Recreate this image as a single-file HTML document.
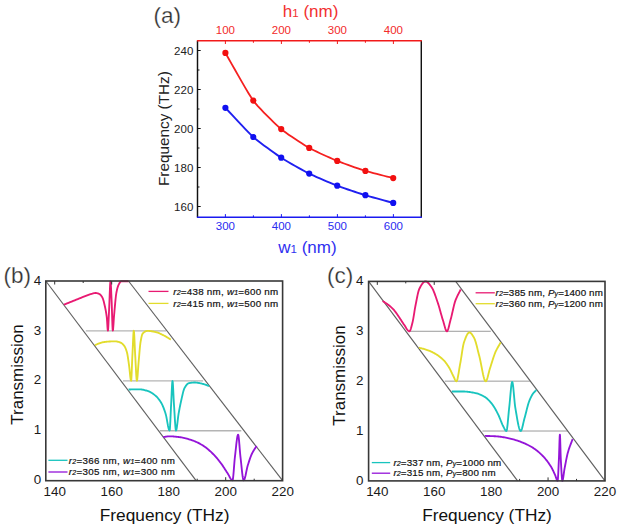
<!DOCTYPE html>
<html><head><meta charset="utf-8"><style>
html,body{margin:0;padding:0;background:#fff;}
svg{display:block;}
</style></head><body>
<svg width="621" height="528" viewBox="0 0 621 528">
<rect width="621" height="528" fill="#fff"/>
<g fill="none" stroke-width="1.45"><line x1="197.5" y1="40.8" x2="197.5" y2="217.3" stroke="#111"/><line x1="421.3" y1="40.8" x2="421.3" y2="217.3" stroke="#111"/><line x1="196.9" y1="40.8" x2="421.90000000000003" y2="40.8" stroke="#f21a1a"/><line x1="196.9" y1="217.3" x2="421.90000000000003" y2="217.3" stroke="#1a1af0"/></g><line x1="197.5" y1="206.50" x2="200.7" y2="206.50" stroke="#111" stroke-width="1"/><line x1="197.5" y1="187.00" x2="199.5" y2="187.00" stroke="#111" stroke-width="1"/><line x1="197.5" y1="167.50" x2="200.7" y2="167.50" stroke="#111" stroke-width="1"/><line x1="197.5" y1="148.00" x2="199.5" y2="148.00" stroke="#111" stroke-width="1"/><line x1="197.5" y1="128.50" x2="200.7" y2="128.50" stroke="#111" stroke-width="1"/><line x1="197.5" y1="109.00" x2="199.5" y2="109.00" stroke="#111" stroke-width="1"/><line x1="197.5" y1="89.50" x2="200.7" y2="89.50" stroke="#111" stroke-width="1"/><line x1="197.5" y1="70.00" x2="199.5" y2="70.00" stroke="#111" stroke-width="1"/><line x1="197.5" y1="50.50" x2="200.7" y2="50.50" stroke="#111" stroke-width="1"/><line x1="225.40" y1="217.3" x2="225.40" y2="214.10000000000002" stroke="#1a1af0" stroke-width="1"/><line x1="225.40" y1="40.8" x2="225.40" y2="44.0" stroke="#f21a1a" stroke-width="1"/><line x1="253.40" y1="217.3" x2="253.40" y2="215.3" stroke="#1a1af0" stroke-width="1"/><line x1="253.40" y1="40.8" x2="253.40" y2="42.8" stroke="#f21a1a" stroke-width="1"/><line x1="281.40" y1="217.3" x2="281.40" y2="214.10000000000002" stroke="#1a1af0" stroke-width="1"/><line x1="281.40" y1="40.8" x2="281.40" y2="44.0" stroke="#f21a1a" stroke-width="1"/><line x1="309.40" y1="217.3" x2="309.40" y2="215.3" stroke="#1a1af0" stroke-width="1"/><line x1="309.40" y1="40.8" x2="309.40" y2="42.8" stroke="#f21a1a" stroke-width="1"/><line x1="337.40" y1="217.3" x2="337.40" y2="214.10000000000002" stroke="#1a1af0" stroke-width="1"/><line x1="337.40" y1="40.8" x2="337.40" y2="44.0" stroke="#f21a1a" stroke-width="1"/><line x1="365.40" y1="217.3" x2="365.40" y2="215.3" stroke="#1a1af0" stroke-width="1"/><line x1="365.40" y1="40.8" x2="365.40" y2="42.8" stroke="#f21a1a" stroke-width="1"/><line x1="393.40" y1="217.3" x2="393.40" y2="214.10000000000002" stroke="#1a1af0" stroke-width="1"/><line x1="393.40" y1="40.8" x2="393.40" y2="44.0" stroke="#f21a1a" stroke-width="1"/><path d="M225.40,52.90 L226.71,55.19 L228.84,58.96 L231.60,63.87 L234.82,69.56 L238.30,75.68 L241.87,81.89 L245.34,87.84 L248.52,93.17 L251.24,97.54 L253.30,100.60 L255.29,103.12 L257.81,106.04 L260.73,109.22 L263.92,112.56 L267.25,115.93 L270.57,119.22 L273.76,122.30 L276.69,125.05 L279.21,127.36 L281.20,129.10 L283.19,130.69 L285.72,132.57 L288.65,134.65 L291.86,136.85 L295.20,139.08 L298.53,141.27 L301.74,143.33 L304.67,145.18 L307.21,146.73 L309.20,147.90 L311.19,148.97 L313.72,150.25 L316.66,151.68 L319.86,153.19 L323.19,154.73 L326.53,156.25 L329.73,157.68 L332.67,158.97 L335.20,160.06 L337.20,160.90 L339.20,161.69 L341.75,162.66 L344.71,163.75 L347.94,164.92 L351.31,166.12 L354.67,167.30 L357.90,168.42 L360.86,169.42 L363.40,170.26 L365.40,170.90 L367.46,171.50 L370.17,172.24 L373.35,173.08 L376.80,173.97 L380.36,174.87 L383.83,175.75 L387.03,176.55 L389.78,177.24 L391.90,177.77 L393.20,178.10" fill="none" stroke="#f52020" stroke-width="1.8"/><path d="M225.40,107.80 L226.71,109.19 L228.84,111.48 L231.60,114.45 L234.82,117.90 L238.30,121.62 L241.87,125.41 L245.34,129.04 L248.52,132.33 L251.24,135.05 L253.30,137.00 L255.29,138.69 L257.81,140.72 L260.73,142.98 L263.92,145.39 L267.25,147.85 L270.57,150.27 L273.76,152.56 L276.69,154.62 L279.21,156.37 L281.20,157.70 L283.19,158.96 L285.72,160.49 L288.65,162.22 L291.86,164.07 L295.20,165.97 L298.53,167.85 L301.74,169.62 L304.67,171.22 L307.21,172.57 L309.20,173.60 L311.19,174.56 L313.72,175.73 L316.66,177.04 L319.86,178.45 L323.19,179.89 L326.53,181.31 L329.73,182.66 L332.67,183.88 L335.20,184.91 L337.20,185.70 L339.20,186.44 L341.75,187.35 L344.71,188.38 L347.94,189.48 L351.31,190.61 L354.67,191.74 L357.90,192.80 L360.86,193.76 L363.40,194.57 L365.40,195.20 L367.46,195.81 L370.17,196.59 L373.35,197.48 L376.80,198.43 L380.36,199.41 L383.83,200.35 L387.03,201.22 L389.78,201.97 L391.90,202.54 L393.20,202.90" fill="none" stroke="#2020f0" stroke-width="1.9"/><circle cx="225.4" cy="52.9" r="3.1" fill="#f21010"/><circle cx="253.3" cy="100.6" r="3.1" fill="#f21010"/><circle cx="281.2" cy="129.1" r="3.1" fill="#f21010"/><circle cx="309.2" cy="147.9" r="3.1" fill="#f21010"/><circle cx="337.2" cy="160.9" r="3.1" fill="#f21010"/><circle cx="365.4" cy="170.9" r="3.1" fill="#f21010"/><circle cx="393.2" cy="178.1" r="3.1" fill="#f21010"/><circle cx="225.4" cy="107.8" r="3.1" fill="#1010f0"/><circle cx="253.3" cy="137.0" r="3.1" fill="#1010f0"/><circle cx="281.2" cy="157.7" r="3.1" fill="#1010f0"/><circle cx="309.2" cy="173.6" r="3.1" fill="#1010f0"/><circle cx="337.2" cy="185.7" r="3.1" fill="#1010f0"/><circle cx="365.4" cy="195.2" r="3.1" fill="#1010f0"/><circle cx="393.2" cy="202.9" r="3.1" fill="#1010f0"/><g font-family='"Liberation Sans", sans-serif' font-size="11.5" text-anchor="middle"><text x="193.3" y="210.60" text-anchor="end" fill="#222">160</text><text x="193.3" y="171.60" text-anchor="end" fill="#222">180</text><text x="193.3" y="132.60" text-anchor="end" fill="#222">200</text><text x="193.3" y="93.60" text-anchor="end" fill="#222">220</text><text x="193.3" y="54.60" text-anchor="end" fill="#222">240</text><text x="225.40" y="230.3" fill="#2a2af0">300</text><text x="281.40" y="230.3" fill="#2a2af0">400</text><text x="337.40" y="230.3" fill="#2a2af0">500</text><text x="393.40" y="230.3" fill="#2a2af0">600</text><text x="225.40" y="34.2" fill="#f22a2a">100</text><text x="281.40" y="34.2" fill="#f22a2a">200</text><text x="337.40" y="34.2" fill="#f22a2a">300</text><text x="393.40" y="34.2" fill="#f22a2a">400</text></g><text x="163.6" y="128.6" transform="rotate(-90 163.6 128.6)" dy="5.3" font-family='"Liberation Sans", sans-serif' font-size="15.3" text-anchor="middle" fill="#222">Frequency (THz)</text><text x="310.6" y="17" font-family='"Liberation Sans", sans-serif' font-size="17" text-anchor="middle" fill="#f23030">h<tspan font-size="11.5">1</tspan> (nm)</text><text x="307.4" y="252.8" font-family='"Liberation Sans", sans-serif' font-size="17" text-anchor="middle" fill="#3030f0">w<tspan font-size="11.5">1</tspan> (nm)</text><text x="153.5" y="22.8" font-family='"Liberation Sans", sans-serif' font-size="22.5" fill="#303030" stroke="#fff" stroke-width="0.25">(a)</text><line x1="159.8" y1="430.77" x2="241.3" y2="430.77" stroke="#b4b4b4" stroke-width="1.3"/><line x1="123.0" y1="380.85" x2="203.1" y2="380.85" stroke="#b4b4b4" stroke-width="1.3"/><line x1="85.8" y1="330.93" x2="166.0" y2="330.93" stroke="#b4b4b4" stroke-width="1.3"/><line x1="45.8" y1="281.0" x2="196.1" y2="480.7" stroke="#606060" stroke-width="1.15"/><line x1="128.5" y1="281.0" x2="282.6" y2="480.7" stroke="#606060" stroke-width="1.15"/><path d="M63.90,304.70 L65.45,304.07 L67.00,303.44 L68.55,302.81 L70.10,302.18 L71.65,301.54 L73.20,300.91 L74.75,300.28 L76.30,299.65 L77.85,299.03 L79.40,298.41 L80.95,297.80 L82.50,297.20 L83.17,296.94 L83.83,296.67 L84.50,296.40 L85.17,296.13 L85.83,295.87 L86.50,295.60 L87.17,295.34 L87.83,295.09 L88.50,294.85 L89.17,294.62 L89.83,294.40 L90.50,294.20 L90.92,294.08 L91.33,293.94 L91.75,293.81 L92.17,293.68 L92.58,293.54 L93.00,293.42 L93.42,293.31 L93.83,293.20 L94.25,293.12 L94.67,293.06 L95.08,293.01 L95.50,293.00 L95.82,293.01 L96.13,293.04 L96.45,293.08 L96.77,293.14 L97.08,293.21 L97.40,293.29 L97.72,293.39 L98.03,293.49 L98.35,293.61 L98.67,293.73 L98.98,293.86 L99.30,294.00 L99.55,294.13 L99.80,294.28 L100.05,294.47 L100.30,294.69 L100.55,294.94 L100.80,295.22 L101.05,295.52 L101.30,295.85 L101.55,296.20 L101.80,296.58 L102.05,296.98 L102.30,297.40 L102.53,297.85 L102.77,298.40 L103.00,299.03 L103.23,299.74 L103.47,300.52 L103.70,301.36 L103.93,302.26 L104.17,303.21 L104.40,304.19 L104.63,305.21 L104.87,306.24 L105.10,307.30 L105.24,307.95 L105.38,308.63 L105.52,309.33 L105.67,310.06 L105.81,310.83 L105.95,311.63 L106.09,312.48 L106.23,313.37 L106.38,314.31 L106.52,315.32 L106.66,316.38 L106.80,317.50 L106.89,318.39 L106.98,319.51 L107.08,320.81 L107.17,322.23 L107.26,323.70 L107.35,325.17 L107.44,326.58 L107.53,327.87 L107.62,328.97 L107.72,329.84 L107.81,330.40 L107.90,330.60 L107.99,330.36 L108.08,329.68 L108.18,328.61 L108.27,327.23 L108.36,325.59 L108.45,323.74 L108.54,321.75 L108.63,319.68 L108.72,317.59 L108.82,315.54 L108.91,313.59 L109.00,311.80 L109.12,309.26 L109.25,306.34 L109.38,303.16 L109.50,299.82 L109.62,296.44 L109.75,293.14 L109.88,290.03 L110.00,287.23 L110.12,284.85 L110.25,283.01 L110.38,281.82 L110.50,281.40 L110.59,281.63 L110.68,282.29 L110.78,283.33 L110.87,284.68 L110.96,286.30 L111.05,288.14 L111.14,290.12 L111.23,292.21 L111.32,294.35 L111.42,296.48 L111.51,298.55 L111.60,300.50 L111.70,302.81 L111.80,305.57 L111.90,308.66 L112.00,311.94 L112.10,315.30 L112.20,318.62 L112.30,321.77 L112.40,324.62 L112.50,327.05 L112.60,328.94 L112.70,330.16 L112.80,330.60 L112.91,330.39 L113.02,329.78 L113.12,328.85 L113.23,327.65 L113.34,326.23 L113.45,324.66 L113.56,322.99 L113.67,321.27 L113.77,319.58 L113.88,317.97 L113.99,316.49 L114.10,315.20 L114.29,313.09 L114.48,310.93 L114.67,308.75 L114.87,306.57 L115.06,304.43 L115.25,302.35 L115.44,300.35 L115.63,298.48 L115.83,296.74 L116.02,295.18 L116.21,293.83 L116.40,292.70 L116.58,291.77 L116.77,290.88 L116.95,290.04 L117.13,289.26 L117.32,288.53 L117.50,287.84 L117.68,287.21 L117.87,286.62 L118.05,286.09 L118.23,285.61 L118.42,285.18 L118.60,284.80 L118.83,284.35 L119.07,283.91 L119.30,283.48 L119.53,283.07 L119.77,282.68 L120.00,282.32 L120.23,282.01 L120.47,281.73 L120.70,281.51 L120.93,281.34 L121.17,281.24 L121.40,281.20 L121.99,281.20 L122.58,281.20 L123.18,281.20 L123.77,281.20 L124.36,281.20 L124.95,281.20 L125.54,281.20 L126.13,281.20 L126.72,281.20 L127.32,281.20 L127.91,281.20 L128.50,281.20" fill="none" stroke="#e81a72" stroke-width="1.85" stroke-linejoin="round"/><path d="M94.80,345.10 L95.54,344.84 L96.28,344.56 L97.03,344.26 L97.77,343.96 L98.51,343.66 L99.25,343.36 L99.99,343.08 L100.73,342.82 L101.47,342.58 L102.22,342.38 L102.96,342.22 L103.70,342.10 L104.61,341.99 L105.52,341.89 L106.42,341.79 L107.33,341.69 L108.24,341.61 L109.15,341.53 L110.06,341.46 L110.97,341.41 L111.88,341.36 L112.78,341.33 L113.69,341.31 L114.60,341.30 L115.06,341.31 L115.52,341.34 L115.97,341.39 L116.43,341.45 L116.89,341.53 L117.35,341.62 L117.81,341.73 L118.27,341.84 L118.72,341.97 L119.18,342.11 L119.64,342.25 L120.10,342.40 L120.44,342.53 L120.78,342.69 L121.12,342.88 L121.47,343.10 L121.81,343.34 L122.15,343.62 L122.49,343.92 L122.83,344.24 L123.17,344.60 L123.52,344.97 L123.86,345.38 L124.20,345.80 L124.43,346.12 L124.67,346.49 L124.90,346.90 L125.13,347.35 L125.37,347.85 L125.60,348.39 L125.83,348.98 L126.07,349.62 L126.30,350.30 L126.53,351.02 L126.77,351.79 L127.00,352.60 L127.17,353.26 L127.33,354.03 L127.50,354.91 L127.67,355.87 L127.83,356.91 L128.00,358.00 L128.17,359.14 L128.33,360.31 L128.50,361.49 L128.67,362.68 L128.83,363.85 L129.00,365.00 L129.18,366.30 L129.35,367.81 L129.53,369.45 L129.70,371.18 L129.88,372.92 L130.05,374.63 L130.22,376.23 L130.40,377.68 L130.57,378.91 L130.75,379.87 L130.92,380.48 L131.10,380.70 L131.21,380.36 L131.32,379.38 L131.43,377.87 L131.53,375.92 L131.64,373.62 L131.75,371.05 L131.86,368.32 L131.97,365.52 L132.07,362.73 L132.18,360.05 L132.29,357.58 L132.40,355.40 L132.52,353.10 L132.63,350.58 L132.75,347.92 L132.87,345.19 L132.98,342.48 L133.10,339.87 L133.22,337.43 L133.33,335.26 L133.45,333.43 L133.57,332.02 L133.68,331.12 L133.80,330.80 L133.92,331.14 L134.03,332.10 L134.15,333.58 L134.27,335.50 L134.38,337.76 L134.50,340.27 L134.62,342.94 L134.73,345.67 L134.85,348.38 L134.97,350.96 L135.08,353.33 L135.20,355.40 L135.34,357.82 L135.48,360.45 L135.62,363.22 L135.77,366.03 L135.91,368.81 L136.05,371.48 L136.19,373.97 L136.33,376.18 L136.47,378.03 L136.62,379.46 L136.76,380.38 L136.90,380.70 L137.04,380.45 L137.18,379.75 L137.32,378.65 L137.47,377.23 L137.61,375.56 L137.75,373.70 L137.89,371.71 L138.03,369.66 L138.18,367.62 L138.32,365.65 L138.46,363.82 L138.60,362.20 L138.77,360.39 L138.93,358.50 L139.10,356.56 L139.27,354.60 L139.43,352.64 L139.60,350.73 L139.77,348.88 L139.93,347.13 L140.10,345.51 L140.27,344.04 L140.43,342.76 L140.60,341.70 L140.78,340.72 L140.95,339.76 L141.12,338.85 L141.30,337.97 L141.47,337.15 L141.65,336.39 L141.82,335.69 L142.00,335.07 L142.17,334.53 L142.35,334.09 L142.52,333.74 L142.70,333.50 L143.10,333.09 L143.50,332.72 L143.90,332.38 L144.30,332.08 L144.70,331.80 L145.10,331.57 L145.50,331.36 L145.90,331.20 L146.30,331.07 L146.70,330.98 L147.10,330.92 L147.50,330.90 L148.18,330.91 L148.87,330.95 L149.55,331.00 L150.23,331.08 L150.92,331.17 L151.60,331.28 L152.28,331.40 L152.97,331.53 L153.65,331.66 L154.33,331.81 L155.02,331.95 L155.70,332.10 L156.38,332.27 L157.07,332.46 L157.75,332.69 L158.43,332.95 L159.12,333.22 L159.80,333.52 L160.48,333.83 L161.17,334.15 L161.85,334.49 L162.53,334.82 L163.22,335.16 L163.90,335.50 L164.47,335.79 L165.05,336.10 L165.62,336.42 L166.20,336.76 L166.78,337.11 L167.35,337.46 L167.93,337.82 L168.50,338.18 L169.08,338.54 L169.65,338.90 L170.23,339.25 L170.80,339.60" fill="none" stroke="#e2dc2c" stroke-width="1.85" stroke-linejoin="round"/><path d="M128.60,389.50 L129.51,389.48 L130.42,389.46 L131.32,389.44 L132.23,389.42 L133.14,389.40 L134.05,389.38 L134.96,389.35 L135.87,389.34 L136.78,389.32 L137.68,389.31 L138.59,389.30 L139.50,389.30 L140.22,389.32 L140.95,389.37 L141.68,389.46 L142.40,389.58 L143.12,389.73 L143.85,389.89 L144.57,390.08 L145.30,390.29 L146.02,390.50 L146.75,390.73 L147.47,390.96 L148.20,391.20 L148.80,391.41 L149.40,391.66 L150.00,391.94 L150.60,392.25 L151.20,392.58 L151.80,392.95 L152.40,393.34 L153.00,393.75 L153.60,394.18 L154.20,394.64 L154.80,395.11 L155.40,395.60 L155.88,396.02 L156.37,396.46 L156.85,396.94 L157.33,397.46 L157.82,398.00 L158.30,398.58 L158.78,399.20 L159.27,399.85 L159.75,400.53 L160.23,401.25 L160.72,402.01 L161.20,402.80 L161.57,403.44 L161.93,404.14 L162.30,404.90 L162.67,405.70 L163.03,406.55 L163.40,407.45 L163.77,408.40 L164.13,409.38 L164.50,410.41 L164.87,411.47 L165.23,412.57 L165.60,413.70 L165.93,414.91 L166.27,416.39 L166.60,418.09 L166.93,419.91 L167.27,421.79 L167.60,423.66 L167.93,425.45 L168.27,427.07 L168.60,428.46 L168.93,429.55 L169.27,430.25 L169.60,430.50 L169.72,430.16 L169.85,429.20 L169.97,427.72 L170.10,425.79 L170.22,423.50 L170.35,420.95 L170.47,418.22 L170.60,415.40 L170.72,412.59 L170.85,409.85 L170.97,407.29 L171.10,405.00 L171.22,402.85 L171.33,400.46 L171.45,397.89 L171.57,395.24 L171.68,392.58 L171.80,390.01 L171.92,387.61 L172.03,385.45 L172.15,383.63 L172.27,382.22 L172.38,381.32 L172.50,381.00 L172.62,381.34 L172.75,382.28 L172.88,383.75 L173.00,385.64 L173.12,387.86 L173.25,390.32 L173.38,392.94 L173.50,395.61 L173.62,398.24 L173.75,400.75 L173.88,403.03 L174.00,405.00 L174.17,407.50 L174.33,410.19 L174.50,413.00 L174.67,415.84 L174.83,418.64 L175.00,421.32 L175.17,423.80 L175.33,426.00 L175.50,427.85 L175.67,429.27 L175.83,430.18 L176.00,430.50 L176.22,430.26 L176.43,429.60 L176.65,428.56 L176.87,427.23 L177.08,425.67 L177.30,423.94 L177.52,422.10 L177.73,420.23 L177.95,418.39 L178.17,416.64 L178.38,415.06 L178.60,413.70 L178.84,412.35 L179.08,411.02 L179.32,409.71 L179.57,408.43 L179.81,407.18 L180.05,405.96 L180.29,404.76 L180.53,403.59 L180.78,402.45 L181.02,401.34 L181.26,400.25 L181.50,399.20 L181.74,398.15 L181.98,397.08 L182.22,396.00 L182.47,394.93 L182.71,393.88 L182.95,392.86 L183.19,391.90 L183.43,390.99 L183.68,390.17 L183.92,389.44 L184.16,388.81 L184.40,388.30 L184.77,387.64 L185.13,387.01 L185.50,386.41 L185.87,385.85 L186.23,385.34 L186.60,384.86 L186.97,384.44 L187.33,384.07 L187.70,383.76 L188.07,383.51 L188.43,383.32 L188.80,383.20 L189.28,383.09 L189.77,383.00 L190.25,382.91 L190.73,382.82 L191.22,382.75 L191.70,382.69 L192.18,382.63 L192.67,382.58 L193.15,382.55 L193.63,382.52 L194.12,382.51 L194.60,382.50 L195.32,382.52 L196.05,382.56 L196.78,382.64 L197.50,382.73 L198.22,382.85 L198.95,382.99 L199.68,383.14 L200.40,383.30 L201.12,383.47 L201.85,383.65 L202.58,383.82 L203.30,384.00 L203.78,384.13 L204.27,384.27 L204.75,384.42 L205.23,384.59 L205.72,384.77 L206.20,384.96 L206.68,385.15 L207.17,385.35 L207.65,385.54 L208.13,385.73 L208.62,385.92 L209.10,386.10" fill="none" stroke="#18c4be" stroke-width="1.85" stroke-linejoin="round"/><path d="M163.20,437.10 L163.74,437.03 L164.28,436.95 L164.82,436.86 L165.37,436.77 L165.91,436.69 L166.45,436.60 L166.99,436.52 L167.53,436.45 L168.07,436.39 L168.62,436.34 L169.16,436.31 L169.70,436.30 L170.50,436.31 L171.30,436.33 L172.10,436.37 L172.90,436.42 L173.70,436.48 L174.50,436.55 L175.30,436.63 L176.10,436.72 L176.90,436.81 L177.70,436.91 L178.50,437.00 L179.30,437.10 L180.38,437.25 L181.45,437.42 L182.53,437.62 L183.60,437.84 L184.68,438.09 L185.75,438.36 L186.82,438.65 L187.90,438.95 L188.97,439.27 L190.05,439.60 L191.12,439.95 L192.20,440.30 L193.14,440.63 L194.08,440.99 L195.02,441.37 L195.97,441.78 L196.91,442.22 L197.85,442.68 L198.79,443.17 L199.73,443.67 L200.68,444.20 L201.62,444.75 L202.56,445.32 L203.50,445.90 L204.30,446.42 L205.10,446.98 L205.90,447.57 L206.70,448.19 L207.50,448.84 L208.30,449.52 L209.10,450.22 L209.90,450.94 L210.70,451.68 L211.50,452.44 L212.30,453.21 L213.10,454.00 L213.78,454.68 L214.45,455.39 L215.12,456.12 L215.80,456.88 L216.47,457.65 L217.15,458.45 L217.82,459.27 L218.50,460.10 L219.17,460.95 L219.85,461.82 L220.52,462.70 L221.20,463.60 L221.73,464.33 L222.27,465.09 L222.80,465.88 L223.33,466.69 L223.87,467.51 L224.40,468.34 L224.93,469.18 L225.47,470.03 L226.00,470.86 L226.53,471.69 L227.07,472.51 L227.60,473.30 L228.01,473.94 L228.42,474.65 L228.82,475.41 L229.23,476.18 L229.64,476.95 L230.05,477.70 L230.46,478.40 L230.87,479.02 L231.28,479.54 L231.68,479.95 L232.09,480.21 L232.50,480.30 L232.70,479.97 L232.90,479.04 L233.10,477.61 L233.30,475.77 L233.50,473.60 L233.70,471.21 L233.90,468.68 L234.10,466.10 L234.30,463.57 L234.50,461.19 L234.70,459.03 L234.90,457.20 L235.17,454.92 L235.43,452.50 L235.70,450.00 L235.97,447.49 L236.23,445.02 L236.50,442.68 L236.77,440.51 L237.03,438.59 L237.30,436.99 L237.57,435.76 L237.83,434.98 L238.10,434.70 L238.30,435.02 L238.50,435.91 L238.70,437.29 L238.90,439.07 L239.10,441.17 L239.30,443.49 L239.50,445.94 L239.70,448.45 L239.90,450.91 L240.10,453.25 L240.30,455.38 L240.50,457.20 L240.77,459.49 L241.03,461.95 L241.30,464.50 L241.57,467.08 L241.83,469.61 L242.10,472.03 L242.37,474.27 L242.63,476.26 L242.90,477.92 L243.17,479.20 L243.43,480.01 L243.70,480.30 L244.04,480.09 L244.38,479.49 L244.72,478.57 L245.07,477.38 L245.41,475.98 L245.75,474.43 L246.09,472.79 L246.43,471.12 L246.78,469.48 L247.12,467.92 L247.46,466.51 L247.80,465.30 L248.13,464.24 L248.47,463.18 L248.80,462.14 L249.13,461.11 L249.47,460.10 L249.80,459.12 L250.13,458.17 L250.47,457.25 L250.80,456.37 L251.13,455.53 L251.47,454.74 L251.80,454.00 L252.20,453.18 L252.60,452.40 L253.00,451.68 L253.40,450.99 L253.80,450.32 L254.20,449.69 L254.60,449.06 L255.00,448.44 L255.40,447.83 L255.80,447.20 L256.20,446.56 L256.60,445.90" fill="none" stroke="#9414d8" stroke-width="1.85" stroke-linejoin="round"/><rect x="45.8" y="281.0" width="236.8" height="199.7" fill="none" stroke="#383838" stroke-width="1.6"/><line x1="54.70" y1="281.0" x2="54.70" y2="284.5" stroke="#333" stroke-width="1"/><line x1="83.20" y1="281.0" x2="83.20" y2="283.0" stroke="#333" stroke-width="1"/><line x1="111.70" y1="281.0" x2="111.70" y2="284.5" stroke="#333" stroke-width="1"/><line x1="197.20" y1="480.7" x2="197.20" y2="478.7" stroke="#333" stroke-width="1"/><line x1="225.70" y1="480.7" x2="225.70" y2="477.2" stroke="#333" stroke-width="1"/><line x1="254.20" y1="480.7" x2="254.20" y2="478.7" stroke="#333" stroke-width="1"/><g font-family='"Liberation Sans", sans-serif' font-size="13.4" fill="#1a1a1a" text-anchor="middle"><text x="54.70" y="496.2">140</text><text x="111.70" y="496.2">160</text><text x="168.70" y="496.2">180</text><text x="225.70" y="496.2">200</text><text x="282.70" y="496.2">220</text><text x="37.5" y="484.30">0</text><text x="37.5" y="434.38">1</text><text x="37.5" y="384.45">2</text><text x="37.5" y="334.53">3</text><text x="37.5" y="284.60">4</text></g><text x="164.6" y="520.7" font-family='"Liberation Sans", sans-serif' font-size="17.3" text-anchor="middle" fill="#111">Frequency (THz)</text><text x="16.5" y="374.5" transform="rotate(-90 16.5 374.5)" dy="6" font-family='"Liberation Sans", sans-serif' font-size="17" text-anchor="middle" fill="#111">Transmission</text><text x="3.5" y="283.3" font-family='"Liberation Sans", sans-serif' font-size="22.5" fill="#303030" stroke="#fff" stroke-width="0.25">(b)</text><line x1="148.5" y1="291.4" x2="168.5" y2="291.4" stroke="#e81a72" stroke-width="1.3"/><text x="173.2" y="294.59999999999997" textLength="105" lengthAdjust="spacing" font-family='"Liberation Sans", sans-serif' font-size="9.8" fill="#111" stroke="#111" stroke-width="0.2"><tspan font-style="italic">r</tspan><tspan font-style="italic" font-size="7">2</tspan>=438 nm, <tspan font-style="italic">w</tspan><tspan font-style="italic" font-size="7">1</tspan>=600 nm</text><line x1="148.5" y1="303.4" x2="168.5" y2="303.4" stroke="#e2dc2c" stroke-width="1.3"/><text x="173.2" y="306.59999999999997" textLength="105" lengthAdjust="spacing" font-family='"Liberation Sans", sans-serif' font-size="9.8" fill="#111" stroke="#111" stroke-width="0.2"><tspan font-style="italic">r</tspan><tspan font-style="italic" font-size="7">2</tspan>=415 nm, <tspan font-style="italic">w</tspan><tspan font-style="italic" font-size="7">1</tspan>=500 nm</text><line x1="48.4" y1="460.3" x2="67.5" y2="460.3" stroke="#18c4be" stroke-width="1.3"/><text x="68.8" y="463.5" textLength="106" lengthAdjust="spacing" font-family='"Liberation Sans", sans-serif' font-size="9.8" fill="#111" stroke="#111" stroke-width="0.2"><tspan font-style="italic">r</tspan><tspan font-style="italic" font-size="7">2</tspan>=366 nm, <tspan font-style="italic">w</tspan><tspan font-style="italic" font-size="7">1</tspan>=400 nm</text><line x1="48.4" y1="472.0" x2="67.5" y2="472.0" stroke="#9414d8" stroke-width="1.3"/><text x="68.8" y="475.2" textLength="106" lengthAdjust="spacing" font-family='"Liberation Sans", sans-serif' font-size="9.8" fill="#111" stroke="#111" stroke-width="0.2"><tspan font-style="italic">r</tspan><tspan font-style="italic" font-size="7">2</tspan>=305 nm, <tspan font-style="italic">w</tspan><tspan font-style="italic" font-size="7">1</tspan>=300 nm</text><line x1="482.4" y1="431.02" x2="567.8" y2="431.02" stroke="#9a9a9a" stroke-width="1.0"/><line x1="444.8" y1="381.15" x2="529.9" y2="381.15" stroke="#9a9a9a" stroke-width="1.0"/><line x1="408.7" y1="331.27" x2="490.8" y2="331.27" stroke="#9a9a9a" stroke-width="1.0"/><line x1="368.6" y1="281.4" x2="517.6" y2="480.9" stroke="#606060" stroke-width="1.15"/><line x1="455.7" y1="281.4" x2="605.0" y2="480.9" stroke="#606060" stroke-width="1.15"/><path d="M382.60,300.90 L382.98,301.16 L383.37,301.41 L383.75,301.66 L384.13,301.91 L384.52,302.15 L384.90,302.40 L385.28,302.66 L385.67,302.91 L386.05,303.17 L386.43,303.44 L386.82,303.72 L387.20,304.00 L387.72,304.39 L388.23,304.79 L388.75,305.19 L389.27,305.60 L389.78,306.02 L390.30,306.46 L390.82,306.90 L391.33,307.37 L391.85,307.84 L392.37,308.34 L392.88,308.86 L393.40,309.40 L393.91,309.97 L394.42,310.57 L394.92,311.22 L395.43,311.89 L395.94,312.59 L396.45,313.32 L396.96,314.06 L397.47,314.80 L397.98,315.56 L398.48,316.31 L398.99,317.06 L399.50,317.80 L399.88,318.36 L400.27,318.93 L400.65,319.51 L401.03,320.10 L401.42,320.70 L401.80,321.29 L402.18,321.89 L402.57,322.47 L402.95,323.05 L403.33,323.62 L403.72,324.17 L404.10,324.70 L404.54,325.34 L404.98,326.03 L405.43,326.75 L405.87,327.48 L406.31,328.21 L406.75,328.90 L407.19,329.55 L407.63,330.12 L408.07,330.61 L408.52,330.98 L408.96,331.22 L409.40,331.30 L409.66,331.20 L409.92,330.91 L410.17,330.46 L410.43,329.87 L410.69,329.15 L410.95,328.33 L411.21,327.42 L411.47,326.46 L411.73,325.45 L411.98,324.43 L412.24,323.40 L412.50,322.40 L412.75,321.36 L413.00,320.17 L413.25,318.84 L413.50,317.42 L413.75,315.91 L414.00,314.36 L414.25,312.79 L414.50,311.22 L414.75,309.68 L415.00,308.19 L415.25,306.79 L415.50,305.50 L415.82,303.88 L416.15,302.22 L416.48,300.54 L416.80,298.87 L417.12,297.24 L417.45,295.66 L417.77,294.16 L418.10,292.77 L418.42,291.50 L418.75,290.38 L419.07,289.44 L419.40,288.70 L419.91,287.72 L420.42,286.78 L420.92,285.88 L421.43,285.04 L421.94,284.26 L422.45,283.56 L422.96,282.94 L423.47,282.41 L423.98,281.98 L424.48,281.66 L424.99,281.47 L425.50,281.40 L426.01,281.46 L426.52,281.63 L427.02,281.91 L427.53,282.28 L428.04,282.73 L428.55,283.25 L429.06,283.83 L429.57,284.45 L430.08,285.11 L430.58,285.80 L431.09,286.50 L431.60,287.20 L432.11,287.98 L432.62,288.90 L433.12,289.95 L433.63,291.11 L434.14,292.36 L434.65,293.70 L435.16,295.10 L435.67,296.54 L436.18,298.02 L436.68,299.52 L437.19,301.02 L437.70,302.50 L438.15,303.85 L438.60,305.28 L439.05,306.79 L439.50,308.35 L439.95,309.94 L440.40,311.56 L440.85,313.18 L441.30,314.79 L441.75,316.37 L442.20,317.91 L442.65,319.39 L443.10,320.80 L443.42,321.81 L443.73,322.91 L444.05,324.06 L444.37,325.23 L444.68,326.38 L445.00,327.49 L445.32,328.52 L445.63,329.43 L445.95,330.20 L446.27,330.79 L446.58,331.17 L446.90,331.30 L447.22,331.15 L447.53,330.72 L447.85,330.05 L448.17,329.18 L448.48,328.14 L448.80,326.97 L449.12,325.71 L449.43,324.39 L449.75,323.05 L450.07,321.74 L450.38,320.47 L450.70,319.30 L451.08,317.89 L451.47,316.36 L451.85,314.75 L452.23,313.08 L452.62,311.38 L453.00,309.68 L453.38,308.00 L453.77,306.37 L454.15,304.82 L454.53,303.37 L454.92,302.06 L455.30,300.90 L455.75,299.69 L456.20,298.58 L456.65,297.54 L457.10,296.56 L457.55,295.63 L458.00,294.74 L458.45,293.88 L458.90,293.03 L459.35,292.18 L459.80,291.32 L460.25,290.43 L460.70,289.50" fill="none" stroke="#e81a72" stroke-width="1.85" stroke-linejoin="round"/><path d="M418.90,347.70 L419.60,347.89 L420.30,348.07 L421.00,348.25 L421.70,348.42 L422.40,348.59 L423.10,348.77 L423.80,348.95 L424.50,349.14 L425.20,349.34 L425.90,349.54 L426.60,349.76 L427.30,350.00 L428.07,350.28 L428.83,350.57 L429.60,350.89 L430.37,351.22 L431.13,351.57 L431.90,351.94 L432.67,352.33 L433.43,352.73 L434.20,353.15 L434.97,353.58 L435.73,354.03 L436.50,354.50 L437.13,354.90 L437.77,355.32 L438.40,355.75 L439.03,356.21 L439.67,356.69 L440.30,357.19 L440.93,357.71 L441.57,358.26 L442.20,358.83 L442.83,359.43 L443.47,360.05 L444.10,360.70 L444.55,361.19 L445.00,361.71 L445.45,362.26 L445.90,362.84 L446.35,363.44 L446.80,364.07 L447.25,364.73 L447.70,365.41 L448.15,366.10 L448.60,366.82 L449.05,367.55 L449.50,368.30 L449.82,368.85 L450.13,369.45 L450.45,370.07 L450.77,370.72 L451.08,371.39 L451.40,372.07 L451.72,372.75 L452.03,373.44 L452.35,374.11 L452.67,374.76 L452.98,375.40 L453.30,376.00 L453.56,376.51 L453.82,377.06 L454.07,377.63 L454.33,378.22 L454.59,378.81 L454.85,379.37 L455.11,379.89 L455.37,380.35 L455.62,380.74 L455.88,381.04 L456.14,381.23 L456.40,381.30 L456.72,381.08 L457.03,380.44 L457.35,379.46 L457.67,378.17 L457.98,376.64 L458.30,374.91 L458.62,373.06 L458.93,371.12 L459.25,369.17 L459.57,367.24 L459.88,365.40 L460.20,363.70 L460.52,362.00 L460.83,360.13 L461.15,358.15 L461.47,356.09 L461.78,354.01 L462.10,351.94 L462.42,349.93 L462.73,348.02 L463.05,346.26 L463.37,344.69 L463.68,343.36 L464.00,342.30 L464.45,341.03 L464.90,339.79 L465.35,338.59 L465.80,337.45 L466.25,336.39 L466.70,335.43 L467.15,334.57 L467.60,333.83 L468.05,333.23 L468.50,332.78 L468.95,332.50 L469.40,332.40 L469.78,332.45 L470.17,332.61 L470.55,332.86 L470.93,333.19 L471.32,333.60 L471.70,334.07 L472.08,334.59 L472.47,335.16 L472.85,335.77 L473.23,336.40 L473.62,337.04 L474.00,337.70 L474.44,338.57 L474.88,339.66 L475.32,340.93 L475.77,342.37 L476.21,343.93 L476.65,345.59 L477.09,347.33 L477.53,349.11 L477.98,350.91 L478.42,352.69 L478.86,354.43 L479.30,356.10 L479.83,358.25 L480.37,360.69 L480.90,363.35 L481.43,366.13 L481.97,368.92 L482.50,371.65 L483.03,374.21 L483.57,376.51 L484.10,378.47 L484.63,379.98 L485.17,380.95 L485.70,381.30 L486.06,381.13 L486.42,380.64 L486.77,379.87 L487.13,378.89 L487.49,377.72 L487.85,376.41 L488.21,375.02 L488.57,373.58 L488.93,372.15 L489.28,370.76 L489.64,369.46 L490.00,368.30 L490.45,366.93 L490.90,365.52 L491.35,364.08 L491.80,362.64 L492.25,361.20 L492.70,359.77 L493.15,358.37 L493.60,357.01 L494.05,355.70 L494.50,354.45 L494.95,353.28 L495.40,352.20 L495.84,351.22 L496.28,350.29 L496.72,349.41 L497.17,348.56 L497.61,347.75 L498.05,346.97 L498.49,346.20 L498.93,345.43 L499.38,344.67 L499.82,343.90 L500.26,343.11 L500.70,342.30" fill="none" stroke="#e2dc2c" stroke-width="1.85" stroke-linejoin="round"/><path d="M451.80,391.50 L452.76,391.50 L453.72,391.50 L454.68,391.50 L455.63,391.50 L456.59,391.50 L457.55,391.50 L458.51,391.50 L459.47,391.50 L460.43,391.50 L461.38,391.50 L462.34,391.50 L463.30,391.50 L464.32,391.52 L465.33,391.56 L466.35,391.63 L467.37,391.73 L468.38,391.85 L469.40,391.99 L470.42,392.15 L471.43,392.32 L472.45,392.50 L473.47,392.69 L474.48,392.89 L475.50,393.10 L476.27,393.27 L477.03,393.47 L477.80,393.70 L478.57,393.96 L479.33,394.25 L480.10,394.56 L480.87,394.89 L481.63,395.25 L482.40,395.63 L483.17,396.03 L483.93,396.46 L484.70,396.90 L485.34,397.30 L485.98,397.76 L486.62,398.26 L487.27,398.81 L487.91,399.41 L488.55,400.04 L489.19,400.71 L489.83,401.41 L490.47,402.14 L491.12,402.90 L491.76,403.69 L492.40,404.50 L492.91,405.18 L493.42,405.91 L493.92,406.69 L494.43,407.51 L494.94,408.38 L495.45,409.28 L495.96,410.22 L496.47,411.18 L496.98,412.16 L497.48,413.16 L497.99,414.18 L498.50,415.20 L498.88,416.01 L499.27,416.88 L499.65,417.80 L500.03,418.76 L500.42,419.73 L500.80,420.72 L501.18,421.69 L501.57,422.65 L501.95,423.57 L502.33,424.45 L502.72,425.26 L503.10,426.00 L503.38,426.52 L503.65,427.07 L503.93,427.63 L504.20,428.19 L504.48,428.73 L504.75,429.25 L505.02,429.73 L505.30,430.15 L505.57,430.50 L505.85,430.77 L506.12,430.94 L506.40,431.00 L506.63,430.69 L506.87,429.81 L507.10,428.45 L507.33,426.69 L507.57,424.60 L507.80,422.26 L508.03,419.76 L508.27,417.18 L508.50,414.59 L508.73,412.07 L508.97,409.72 L509.20,407.60 L509.45,405.32 L509.70,402.76 L509.95,400.02 L510.20,397.18 L510.45,394.33 L510.70,391.58 L510.95,389.00 L511.20,386.68 L511.45,384.73 L511.70,383.22 L511.95,382.24 L512.20,381.90 L512.46,382.29 L512.72,383.38 L512.98,385.06 L513.23,387.22 L513.49,389.73 L513.75,392.48 L514.01,395.36 L514.27,398.25 L514.52,401.03 L514.78,403.59 L515.04,405.82 L515.30,407.60 L515.75,410.28 L516.20,412.99 L516.65,415.70 L517.10,418.35 L517.55,420.89 L518.00,423.25 L518.45,425.40 L518.90,427.28 L519.35,428.83 L519.80,430.00 L520.25,430.74 L520.70,431.00 L521.02,430.83 L521.33,430.37 L521.65,429.64 L521.97,428.69 L522.28,427.56 L522.60,426.31 L522.92,424.96 L523.23,423.55 L523.55,422.15 L523.87,420.77 L524.18,419.48 L524.50,418.30 L524.88,416.92 L525.27,415.47 L525.65,413.98 L526.03,412.45 L526.42,410.91 L526.80,409.38 L527.18,407.88 L527.57,406.43 L527.95,405.04 L528.33,403.75 L528.72,402.56 L529.10,401.50 L529.42,400.70 L529.73,399.92 L530.05,399.17 L530.37,398.45 L530.68,397.75 L531.00,397.09 L531.32,396.46 L531.63,395.86 L531.95,395.30 L532.27,394.76 L532.58,394.26 L532.90,393.80 L533.19,393.40 L533.48,393.04 L533.77,392.69 L534.07,392.37 L534.36,392.06 L534.65,391.76 L534.94,391.47 L535.23,391.18 L535.52,390.90 L535.82,390.61 L536.11,390.31 L536.40,390.00" fill="none" stroke="#18c4be" stroke-width="1.85" stroke-linejoin="round"/><path d="M484.80,435.90 L485.74,435.93 L486.68,435.96 L487.62,435.99 L488.57,436.02 L489.51,436.04 L490.45,436.07 L491.39,436.10 L492.33,436.13 L493.28,436.17 L494.22,436.21 L495.16,436.25 L496.10,436.30 L497.18,436.37 L498.25,436.47 L499.33,436.59 L500.40,436.73 L501.48,436.89 L502.55,437.06 L503.62,437.24 L504.70,437.44 L505.77,437.65 L506.85,437.86 L507.93,438.08 L509.00,438.30 L510.07,438.53 L511.15,438.79 L512.23,439.07 L513.30,439.36 L514.38,439.68 L515.45,440.01 L516.52,440.36 L517.60,440.72 L518.67,441.10 L519.75,441.49 L520.82,441.89 L521.90,442.30 L522.83,442.67 L523.77,443.05 L524.70,443.45 L525.63,443.87 L526.57,444.30 L527.50,444.76 L528.43,445.23 L529.37,445.72 L530.30,446.24 L531.23,446.77 L532.17,447.32 L533.10,447.90 L533.91,448.42 L534.72,448.98 L535.52,449.56 L536.33,450.17 L537.14,450.81 L537.95,451.47 L538.76,452.17 L539.57,452.88 L540.38,453.63 L541.18,454.39 L541.99,455.19 L542.80,456.00 L543.47,456.70 L544.15,457.43 L544.82,458.19 L545.50,458.98 L546.17,459.80 L546.85,460.65 L547.52,461.54 L548.20,462.46 L548.88,463.41 L549.55,464.40 L550.23,465.43 L550.90,466.50 L551.23,467.05 L551.57,467.64 L551.90,468.25 L552.23,468.89 L552.57,469.55 L552.90,470.23 L553.23,470.93 L553.57,471.63 L553.90,472.34 L554.23,473.06 L554.57,473.78 L554.90,474.50 L555.12,475.03 L555.35,475.63 L555.58,476.28 L555.80,476.97 L556.02,477.65 L556.25,478.32 L556.48,478.96 L556.70,479.52 L556.92,480.00 L557.15,480.37 L557.38,480.61 L557.60,480.70 L557.71,480.44 L557.82,479.71 L557.92,478.55 L558.03,477.04 L558.14,475.23 L558.25,473.19 L558.36,470.96 L558.47,468.61 L558.58,466.20 L558.68,463.79 L558.79,461.44 L558.90,459.20 L558.98,457.32 L559.07,455.08 L559.15,452.57 L559.23,449.90 L559.32,447.16 L559.40,444.46 L559.48,441.90 L559.57,439.58 L559.65,437.59 L559.73,436.05 L559.82,435.06 L559.90,434.70 L559.98,435.08 L560.05,436.13 L560.12,437.74 L560.20,439.81 L560.27,442.22 L560.35,444.86 L560.42,447.61 L560.50,450.37 L560.57,453.02 L560.65,455.45 L560.72,457.55 L560.80,459.20 L560.93,461.70 L561.07,464.23 L561.20,466.74 L561.33,469.18 L561.47,471.50 L561.60,473.67 L561.73,475.62 L561.87,477.33 L562.00,478.73 L562.13,479.80 L562.27,480.47 L562.40,480.70 L562.57,480.54 L562.75,480.08 L562.92,479.37 L563.10,478.46 L563.27,477.38 L563.45,476.18 L563.62,474.90 L563.80,473.59 L563.98,472.29 L564.15,471.05 L564.33,469.90 L564.50,468.90 L564.77,467.45 L565.05,465.98 L565.33,464.51 L565.60,463.05 L565.88,461.61 L566.15,460.19 L566.42,458.81 L566.70,457.48 L566.97,456.20 L567.25,454.99 L567.52,453.85 L567.80,452.80 L568.20,451.39 L568.60,450.07 L569.00,448.83 L569.40,447.66 L569.80,446.54 L570.20,445.47 L570.60,444.42 L571.00,443.38 L571.40,442.34 L571.80,441.29 L572.20,440.22 L572.60,439.10" fill="none" stroke="#9414d8" stroke-width="1.85" stroke-linejoin="round"/><rect x="368.6" y="281.4" width="236.39999999999998" height="199.5" fill="none" stroke="#383838" stroke-width="1.6"/><line x1="377.30" y1="281.4" x2="377.30" y2="284.9" stroke="#333" stroke-width="1"/><line x1="405.76" y1="281.4" x2="405.76" y2="283.4" stroke="#333" stroke-width="1"/><line x1="434.22" y1="281.4" x2="434.22" y2="284.9" stroke="#333" stroke-width="1"/><line x1="519.60" y1="480.9" x2="519.60" y2="478.9" stroke="#333" stroke-width="1"/><line x1="548.06" y1="480.9" x2="548.06" y2="477.4" stroke="#333" stroke-width="1"/><line x1="576.52" y1="480.9" x2="576.52" y2="478.9" stroke="#333" stroke-width="1"/><g font-family='"Liberation Sans", sans-serif' font-size="13.4" fill="#1a1a1a" text-anchor="middle"><text x="377.30" y="496.4">140</text><text x="434.22" y="496.4">160</text><text x="491.14" y="496.4">180</text><text x="548.06" y="496.4">200</text><text x="604.98" y="496.4">220</text><text x="359.8" y="484.50">0</text><text x="359.8" y="434.62">1</text><text x="359.8" y="384.75">2</text><text x="359.8" y="334.88">3</text><text x="359.8" y="285.00">4</text></g><text x="487.0" y="520.9" font-family='"Liberation Sans", sans-serif' font-size="17.3" text-anchor="middle" fill="#111">Frequency (THz)</text><text x="339.0" y="375.5" transform="rotate(-90 339.0 375.5)" dy="6" font-family='"Liberation Sans", sans-serif' font-size="17" text-anchor="middle" fill="#111">Transmission</text><text x="327" y="282.8" font-family='"Liberation Sans", sans-serif' font-size="22.5" fill="#303030" stroke="#fff" stroke-width="0.25">(c)</text><line x1="475.6" y1="292.8" x2="494.8" y2="292.8" stroke="#e81a72" stroke-width="1.3"/><text x="495.6" y="296.0" textLength="107.2" lengthAdjust="spacing" font-family='"Liberation Sans", sans-serif' font-size="9.8" fill="#111" stroke="#111" stroke-width="0.2"><tspan font-style="italic">r</tspan><tspan font-style="italic" font-size="7">2</tspan>=385 nm, <tspan font-style="italic">P</tspan><tspan font-style="italic" font-size="7">y</tspan>=1400 nm</text><line x1="475.6" y1="303.7" x2="494.8" y2="303.7" stroke="#e2dc2c" stroke-width="1.3"/><text x="495.6" y="306.9" textLength="107.2" lengthAdjust="spacing" font-family='"Liberation Sans", sans-serif' font-size="9.8" fill="#111" stroke="#111" stroke-width="0.2"><tspan font-style="italic">r</tspan><tspan font-style="italic" font-size="7">2</tspan>=360 nm, <tspan font-style="italic">P</tspan><tspan font-style="italic" font-size="7">y</tspan>=1200 nm</text><line x1="371.8" y1="462.6" x2="390.2" y2="462.6" stroke="#18c4be" stroke-width="1.3"/><text x="393.4" y="465.8" textLength="107.8" lengthAdjust="spacing" font-family='"Liberation Sans", sans-serif' font-size="9.8" fill="#111" stroke="#111" stroke-width="0.2"><tspan font-style="italic">r</tspan><tspan font-style="italic" font-size="7">2</tspan>=337 nm, <tspan font-style="italic">P</tspan><tspan font-style="italic" font-size="7">y</tspan>=1000 nm</text><line x1="371.8" y1="473.2" x2="390.2" y2="473.2" stroke="#9414d8" stroke-width="1.3"/><text x="393.4" y="476.4" textLength="102.2" lengthAdjust="spacing" font-family='"Liberation Sans", sans-serif' font-size="9.8" fill="#111" stroke="#111" stroke-width="0.2"><tspan font-style="italic">r</tspan><tspan font-style="italic" font-size="7">2</tspan>=315 nm, <tspan font-style="italic">P</tspan><tspan font-style="italic" font-size="7">y</tspan>=800 nm</text>
</svg>
</body></html>
